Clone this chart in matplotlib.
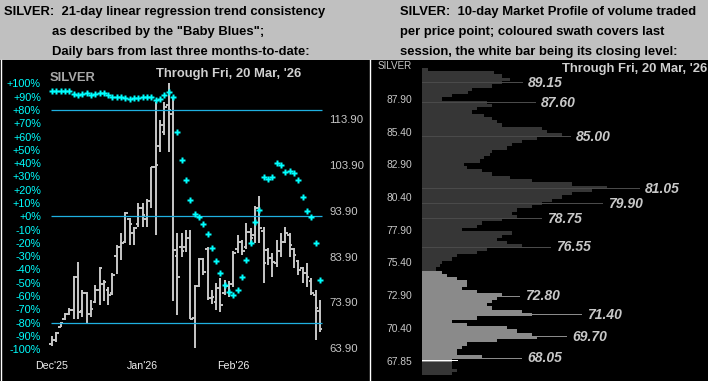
import matplotlib
matplotlib.use("Agg")
import matplotlib.pyplot as plt
import numpy as np
from matplotlib.lines import Line2D
from matplotlib.patches import Rectangle

plt.rcParams.update({
    "font.family": "Liberation Sans",
    "figure.dpi": 100,
    "savefig.dpi": 100,
})

W, H = 708, 381

# Left panel: daily OHLC bars (Dec'25 .. 20 Mar '26) and the "Baby Blues" (%)
bar_open = [64.8, 65.8, 68.6, 70.3, 71.3, 72.3, 79.5, 72.0, 76.0, 71.3,
            74.0, 76.6, 78.0, 76.6, 76.0, 84.0, 85.9, 87.0, 92.0, 89.0,
            91.0, 94.4, 92.0, 96.0, 103.3, 108.0, 111.0, 117.0, 115.0, 84.0,
            86.0, 86.0, 88.0, 70.5, 77.5, 83.3, 85.5, 74.8, 74.0, 77.0,
            76.0, 77.5, 78.0, 85.5, 87.0, 86.0, 89.3, 88.5, 94.5, 89.5,
            85.3, 83.5, 82.5, 85.0, 87.1, 88.5, 85.5, 83.0, 81.3, 80.2,
            78.5, 75.5, 72.0]
bar_high = [66.6, 67.5, 69.7, 71.5, 72.6, 79.7, 82.6, 76.6, 76.2, 74.4,
            77.7, 81.7, 78.8, 77.3, 80.2, 86.4, 89.0, 93.7, 92.2, 90.4,
            95.5, 95.5, 96.5, 103.5, 117.6, 113.6, 117.6, 121.7, 118.7, 89.0,
            89.0, 89.7, 89.7, 77.7, 83.6, 83.5, 86.0, 76.5, 78.1, 79.2,
            78.8, 78.5, 85.0, 88.6, 87.5, 91.2, 90.1, 95.0, 97.1, 90.4,
            85.7, 84.7, 87.5, 89.0, 90.4, 89.0, 85.7, 83.1, 81.7, 82.4,
            79.2, 76.6, 74.4]
bar_low = [64.5, 65.3, 68.5, 70.1, 71.2, 70.2, 70.2, 70.8, 69.3, 70.8,
           73.7, 73.3, 74.1, 73.3, 75.5, 80.0, 83.1, 86.8, 86.4, 86.4,
           90.4, 90.4, 90.4, 94.4, 88.6, 106.7, 110.4, 106.6, 74.1, 71.2,
           83.9, 84.9, 70.2, 63.9, 77.3, 79.8, 74.4, 73.5, 72.2, 71.9,
           75.5, 75.0, 77.3, 84.6, 84.2, 85.5, 86.8, 86.8, 86.8, 78.1,
           82.0, 79.4, 81.7, 83.9, 86.8, 83.9, 81.3, 79.9, 78.1, 77.3,
           75.5, 65.7, 67.5]
bar_close = [65.8, 67.3, 69.4, 71.3, 72.3, 79.5, 71.8, 76.0, 71.3, 72.5,
             76.6, 81.3, 78.4, 75.5, 79.8, 85.9, 86.9, 93.3, 91.0, 90.0,
             94.4, 93.0, 96.0, 103.3, 103.9, 112.5, 116.5, 115.8, 85.3, 79.4,
             85.2, 87.9, 70.3, 77.5, 83.3, 80.6, 74.8, 75.0, 77.0, 73.3,
             77.5, 78.0, 84.6, 87.0, 85.2, 89.3, 88.0, 94.5, 90.0, 82.5,
             83.5, 82.8, 85.0, 87.1, 89.0, 86.5, 84.2, 81.0, 80.2, 79.5,
             76.0, 72.6, 68.05]
baby_blues = [94, 94, 94.5, 94.5, 94.5, 92, 91.5, 92, 93, 91.5,
              92, 93, 93, 91, 90, 90, 90, 88.7, 88, 88.7,
              89, 89.5, 89.5, 89.5, 87.5, 88.5, 91, 93.5, 90, 63.4,
              42, 27, 12, 2, -0.5, -5.8, -13.3, -23.6, -33.4, -42.4,
              -51.7, -56.7, -59.2, -55.4, -46, -33, -19.8, -4, 4.7, 29.6,
              28, 29.6, 40.1, 38.4, 33.3, 34.1, 32.6, 27.1, 14.5, 4.2,
              -0.3, -20, -48]
month_pos = [0, 21, 42]
month_labels = ["Dec'25", "Jan'26", "Feb'26"]
pct_ticks = list(range(-100, 101, 10))
band_levels = [80, 0, -80]
price_ticks = [63.90, 73.90, 83.90, 93.90, 103.90, 113.90]

# Right panel: 10-day volume profile
profile_price = [90.15, 89.90, 89.65, 89.40, 89.15, 88.90, 88.65, 88.40, 88.15, 87.90,
                 87.65, 87.40, 87.15, 86.90, 86.65, 86.40, 86.15, 85.90, 85.65, 85.40,
                 85.15, 84.90, 84.65, 84.40, 84.15, 83.90, 83.65, 83.40, 83.15, 82.90,
                 82.65, 82.40, 82.15, 81.90, 81.65, 81.40, 81.15, 80.90, 80.65, 80.40,
                 80.15, 79.90, 79.65, 79.40, 79.15, 78.90, 78.65, 78.40, 78.15, 77.90,
                 77.65, 77.40, 77.15, 76.90, 76.65, 76.40, 76.15, 75.90, 75.65, 75.40,
                 75.15, 74.90, 74.65, 74.40, 74.15, 73.90, 73.65, 73.40, 73.15, 72.90,
                 72.65, 72.40, 72.15, 71.90, 71.65, 71.40, 71.15, 70.90, 70.65, 70.40,
                 70.15, 69.90, 69.65, 69.40, 69.15, 68.90, 68.65, 68.40, 68.15, 67.90,
                 67.65, 67.40, 67.15, 66.90]
profile_volume = [6, 72, 80, 88, 80, 70, 50, 46, 30, 20,
                  65, 70, 55, 50, 62, 70, 75, 80, 120, 125,
                  140, 115, 100, 90, 85, 70, 68, 62, 58, 42,
                  45, 60, 70, 88, 110, 150, 185, 170, 150, 140,
                  130, 120, 110, 95, 90, 95, 80, 60, 55, 40,
                  90, 80, 75, 85, 100, 65, 55, 35, 30, 20,
                  18, 14, 20, 25, 35, 45, 45, 40, 55, 80,
                  75, 70, 65, 70, 100, 110, 55, 30, 45, 85,
                  95, 110, 115, 75, 45, 40, 35, 35, 60, 30,
                  30, 30, 35, 30]
peak_price = [89.15, 87.60, 85.00, 81.05, 79.90, 78.75, 76.55, 72.80, 71.40, 69.70, 68.05]
peak_volume = [101, 114, 149, 218, 181, 120, 129, 98, 160, 145, 100]
swath_low, swath_high = 67.90, 74.65
close_level = 67.88
close_volume = 36
profile_ticks = [87.90, 85.40, 82.90, 80.40, 77.90, 75.40, 72.90, 70.40, 67.85]

BAR = "#c8c8c8"
CYAN = "#00ffff"
BAND = "#1fb0e0"
DARK = "#363636"
LIGHT = "#8a8a8a"


def fx(px):
    return px / W


def fy(py):
    return 1 - py / H


fig = plt.figure(figsize=(W / 100, H / 100), facecolor="#c0c0c0")
fig.add_artist(Rectangle((0, 0), 1, fy(60), transform=fig.transFigure,
                         facecolor="black", edgecolor="none", zorder=0))
for xpx in (1, 369.5):
    fig.add_artist(Line2D([fx(xpx)] * 2, [0, fy(60)], transform=fig.transFigure,
                          color="white", lw=1.0))


def axes_px(left, top, right, bottom):
    ax = fig.add_axes([fx(left), fy(bottom), fx(right) - fx(left), fy(top) - fy(bottom)])
    ax.set_facecolor("none")
    for s in ax.spines.values():
        s.set_visible(False)
    return ax


# ---- left: bars + baby blues
ax = axes_px(44, 62, 326, 358)
ax2 = ax.twinx()
for s in ax2.spines.values():
    s.set_visible(False)
ax.set_zorder(2)
ax2.set_zorder(1)

x = np.arange(len(bar_close))
ax2.vlines(x, bar_low, bar_high, color=BAR, lw=1.4)
ax2.hlines(bar_open, x - 0.6, x, color=BAR, lw=1.4)
ax2.hlines(bar_close, x, x + 0.6, color=BAR, lw=1.4)
ax2.set_ylim(61.79, 126.27)
ax2.set_yticks(price_ticks, [f"{p:.2f}" for p in price_ticks])
ax2.tick_params(axis="y", length=0, pad=2.2, labelsize=8.2, labelcolor=BAR)

ax.hlines(band_levels, -0.3, 62.4, color=BAND, lw=0.9, zorder=1)
ax.plot(x, baby_blues, ls="none", marker="P", ms=4, color=CYAN, mec="none", zorder=3)
ax.set_xlim(-1.85, 63.43)
ax.set_ylim(-106.6, 116.1)
ax.set_yticks(pct_ticks, [f"{v:+d}%" for v in pct_ticks])
ax.tick_params(axis="y", length=0, pad=2.2, labelsize=7.8, labelcolor=CYAN)
ax.set_xticks(month_pos, month_labels)
ax.tick_params(axis="x", length=0, pad=2.2, labelsize=7.7, labelcolor="#f0f0f0")

fig.text(fx(50), fy(81), "SILVER", fontsize=9.35, fontweight="bold", color="#a8a8a8")
fig.text(fx(156), fy(77.5), "Through Fri, 20 Mar, '26", fontsize=9.35,
         fontweight="bold", color="#d0d0d0")

# ---- right: market profile
rx = axes_px(422, 62, 708, 381)
colors = [LIGHT if swath_low <= p <= swath_high else DARK for p in profile_price]
rx.barh(profile_price, profile_volume, height=0.25, color=colors, lw=0)
peak_colors = [LIGHT if swath_low <= p <= swath_high + 0.1 else "#4a4a4a" for p in peak_price]
rx.barh(peak_price, peak_volume, height=0.08, color=peak_colors, lw=0)
rx.barh([close_level], [close_volume], height=0.09, color="white", lw=0)
for p, v in zip(peak_price, peak_volume):
    rx.text(v + 5, p, f"{p:.2f}", fontsize=10, fontweight="bold", fontstyle="italic",
            color="#c8c8c8", va="center", ha="left")
rx.set_xlim(0, 286)
rx.set_ylim(66.32, 90.73)
rx.set_xticks([])
rx.set_yticks(profile_ticks, [f"{p:.2f}" for p in profile_ticks])
rx.tick_params(axis="y", length=0, pad=7.2, labelsize=7.4, labelcolor="#c8c8c8")

fig.text(fx(412), fy(69), "SILVER", fontsize=7.1, color="#c8c8c8", ha="right")
fig.text(fx(707), fy(72), "Through Fri, 20 Mar, '26", fontsize=9.35,
         fontweight="bold", color="#d0d0d0", ha="right")

# ---- header text
hdr = dict(fontsize=9.35, fontweight="bold", color="black", va="baseline")
fig.text(fx(4), fy(15), "SILVER:  21-day linear regression trend consistency", **hdr)
fig.text(fx(52), fy(35.5), 'as described by the "Baby Blues";', **hdr)
fig.text(fx(52), fy(55.5), "Daily bars from last three months-to-date:", **hdr)
fig.text(fx(400), fy(15.5), "SILVER:  10-day Market Profile of volume traded", **hdr)
fig.text(fx(400), fy(35.5), "per price point; coloured swath covers last", **hdr)
fig.text(fx(400), fy(55.5), "session, the white bar being its closing level:", **hdr)

fig.savefig("out.png", dpi=100, facecolor=fig.get_facecolor())
